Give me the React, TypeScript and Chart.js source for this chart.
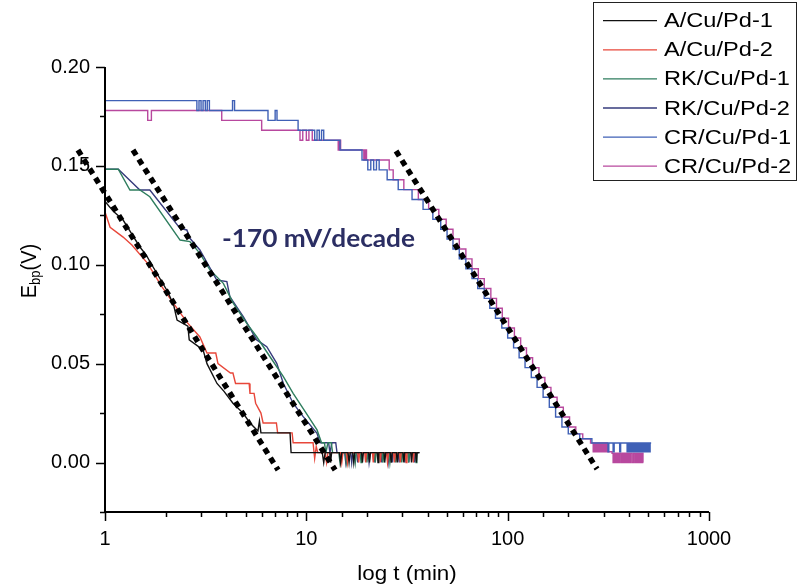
import React, { useEffect, useRef } from "react";
import { Chart, registerables } from "chart.js";

Chart.register(...registerables);

// ---------- data ----------
const seriesNames = ["A/Cu/Pd-1", "A/Cu/Pd-2", "RK/Cu/Pd-1", "RK/Cu/Pd-2", "CR/Cu/Pd-1", "CR/Cu/Pd-2"];
const seriesColors = ["#111111", "#e8473a", "#2e7d5e", "#363b7c", "#3f60b6", "#b8489e"];

const xTickLabels = [1, 10, 100, 1000];
const yTickLabels = [0, 0.05, 0.1, 0.15, 0.2];

const xTitle = "log t (min)";
const yTitleMain = "E";
const yTitleSub = "bp";
const yTitleUnit = "(V)";
const slopeLabel = "-170 mV/decade";

// [t (min), E (V)]
const aCuPd1: [number, number][] = [
  [1, 0.132], [1.1, 0.127], [1.23, 0.1226], [1.35, 0.116], [1.49, 0.109], [1.6, 0.105], [1.73, 0.099],
  [2.06, 0.086], [2.2, 0.079], [2.28, 0.072], [2.58, 0.069], [2.62, 0.062], [3.07, 0.057], [3.21, 0.05],
  [3.6, 0.04], [3.9, 0.036], [4.32, 0.03], [4.85, 0.025], [5.25, 0.02], [5.75, 0.016], [5.85, 0.021],
  [5.95, 0.015], [8.3, 0.015], [8.4, 0.005],
  [12.0, 0.005], [12.2, 0], [12.4, 0.005], [13.1, 0.005], [13.2, 0], [13.35, 0.005], [14.6, 0.005], [14.8, 0],
  [15.0, 0.005], [16.1, 0.005], [16.3, 0], [16.5, 0.005], [17.0, 0.005], [17.2, 0], [17.4, 0.005],
  [18.8, 0.005], [19.0, 0], [19.2, 0.005], [20.4, 0.005], [20.6, 0], [20.8, 0.005], [22.5, 0.005], [22.7, 0],
  [22.9, 0.005], [24.3, 0.005], [24.5, 0], [24.8, 0.005], [26.1, 0.005], [26.4, 0], [26.7, 0.005],
  [28.0, 0.005], [28.3, 0], [28.6, 0.005], [30.2, 0.005], [30.5, 0], [30.8, 0.005], [33.0, 0.005], [33.3, 0],
  [33.6, 0.005], [34.9, 0.005], [35.2, 0], [35.5, 0.005], [36.5, 0.005],
];

const aCuPd2: [number, number][] = [
  [1, 0.1267], [1.06, 0.119], [1.23, 0.114], [1.36, 0.11], [1.62, 0.101], [1.92, 0.0888], [2.18, 0.0807],
  [2.55, 0.071], [2.96, 0.0635], [3.21, 0.0554], [3.55, 0.0554], [3.64, 0.05], [4.2, 0.0453], [4.32, 0.0453],
  [4.45, 0.04], [5.2, 0.04], [5.25, 0.035], [5.5, 0.035], [5.6, 0.03], [5.95, 0.025], [6.1, 0.02], [7.1, 0.02],
  [7.2, 0.015], [8.5, 0.015], [8.6, 0.01], [10.8, 0.01], [11.0, 0.002], [11.2, 0.008], [11.4, 0.005],
  [12.4, 0.005], [12.6, 0], [12.8, 0.005], [14.8, 0.005], [15.0, 0], [15.2, 0.005], [15.8, 0.005], [16.0, 0],
  [16.2, 0.005], [18.0, 0.005], [18.2, 0], [18.4, 0.005], [19.5, 0.005], [19.7, 0], [19.9, 0.005],
  [21.3, 0.005], [21.5, 0], [21.7, 0.005], [23.1, 0.005], [23.3, 0], [23.5, 0.005], [25.0, 0.005], [25.3, 0],
  [25.6, 0.005], [27.1, 0.005], [27.4, 0], [27.7, 0.005], [29.0, 0.005], [29.3, 0], [29.6, 0.005],
  [31.0, 0.005], [31.3, 0], [31.6, 0.005], [33.7, 0.005], [34.0, 0], [34.3, 0.005], [36, 0.005],
];

const rkCuPd1: [number, number][] = [
  [1, 0.1483], [1.164, 0.1483], [1.33, 0.1378], [1.49, 0.1378], [1.67, 0.1344], [2.36, 0.1125], [2.64, 0.1117],
  [2.96, 0.1058], [3.32, 0.0974], [3.87, 0.0906], [4.34, 0.0805], [5.06, 0.0704], [5.67, 0.0636], [6.6, 0.0535],
  [7.69, 0.0434], [8.6, 0.035], [10.0, 0.0249], [11.3, 0.0165], [11.9, 0.01], [12.3, 0.01], [12.5, 0.005],
  [12.8, 0.01], [13.3, 0.01], [13.5, 0.005],
  [14.5, 0.005], [14.7, 0], [14.9, 0.005], [15.6, 0.005], [15.8, 0], [16.0, 0.005], [17.3, 0.005], [17.5, 0],
  [17.7, 0.005], [18.5, 0.005], [18.7, 0], [18.9, 0.005], [19.8, 0.005], [20.0, 0], [20.2, 0.005],
  [21.8, 0.005], [22.0, 0], [22.2, 0.005], [23.8, 0.005], [24.0, 0], [24.3, 0.005], [25.7, 0.005], [26.0, 0],
  [26.3, 0.005], [27.5, 0.005], [27.8, 0], [28.1, 0.005], [29.5, 0.005], [29.8, 0], [30.1, 0.005],
  [31.9, 0.005], [32.2, 0], [32.5, 0.005], [34.8, 0.005], [35.1, 0], [35.4, 0.005], [36.3, 0.005],
];

const rkCuPd2: [number, number][] = [
  [1, 0.1483], [1.164, 0.1483], [1.49, 0.1378], [1.67, 0.1378], [2.36, 0.1184], [2.55, 0.1176], [2.64, 0.1134],
  [2.96, 0.1075], [3.59, 0.0923], [4.03, 0.0915], [4.17, 0.0839], [4.87, 0.0737], [5.67, 0.062], [6.36, 0.0586],
  [7.13, 0.0502], [7.69, 0.04], [8.6, 0.03], [9.65, 0.0232], [11.3, 0.0148], [11.7, 0.01], [12.9, 0.01],
  [13.1, 0.005], [13.4, 0.01], [14.0, 0.01], [14.2, 0.005],
  [15.5, 0.005], [15.7, 0], [15.9, 0.005], [16.6, 0.005], [16.8, 0], [17.0, 0.005], [17.8, 0.005], [18.0, 0],
  [18.2, 0.005], [20.3, 0.005], [20.5, 0], [20.8, 0.005], [21.7, 0.005], [21.9, 0], [22.1, 0.005],
  [23.5, 0.005], [23.7, 0], [23.9, 0.005], [25.2, 0.005], [25.5, 0], [25.8, 0.005], [26.6, 0.005], [26.8, 0],
  [27.0, 0.005], [28.6, 0.005], [28.9, 0], [29.2, 0.005], [30.6, 0.005], [30.9, 0], [31.2, 0.005],
  [32.0, 0.005], [32.3, 0], [32.6, 0.005], [34.1, 0.005], [34.4, 0], [34.7, 0.005], [36.5, 0.005],
];

// stepped series: value changes to E at time t
const crCuPd1: [number, number][] = [
  [1, 0.183], [2.86, 0.178], [2.93, 0.183], [3.0, 0.178], [3.07, 0.183], [3.15, 0.178], [3.22, 0.183],
  [3.3, 0.178], [4.3, 0.183], [4.4, 0.178], [6.45, 0.173], [7.0, 0.178], [7.15, 0.173], [9.1, 0.168],
  [11.0, 0.163], [11.3, 0.168], [11.6, 0.163], [11.9, 0.168], [12.2, 0.163], [14.7, 0.158], [18.9, 0.153],
  [20.2, 0.148], [20.9, 0.153], [21.6, 0.148], [22.3, 0.153], [23.0, 0.148], [25.2, 0.143], [28.6, 0.138],
  [33.5, 0.133], [38.0, 0.128], [42.5, 0.123], [46.5, 0.118], [50.0, 0.113], [53.5, 0.108], [57.5, 0.103],
  [62, 0.098], [66.5, 0.093], [71, 0.088], [76.5, 0.083], [81.5, 0.078], [87, 0.073], [93.5, 0.068],
  [100, 0.063], [107, 0.058], [114, 0.053], [122, 0.048], [131, 0.043], [140, 0.038], [150, 0.033],
  [161, 0.028], [173, 0.023], [186, 0.018], [200, 0.0145], [228, 0.012], [262, 0.0099], [315, 0.0055],
  [318, 0.0099], [334, 0.0055], [338, 0.0099], [360, 0.0055], [364, 0.0099], [392, 0.0055], [397, 0.0099],
  [402, 0.0055], [407, 0.0099], [412, 0.0055], [417, 0.0099], [422, 0.0055], [427, 0.0099], [432, 0.0055],
  [437, 0.0099], [443, 0.0055], [449, 0.0099], [455, 0.0055], [461, 0.0099], [467, 0.0055], [473, 0.0099],
  [479, 0.0055], [485, 0.0099], [491, 0.0055], [497, 0.0099], [503, 0.0055], [510, 0.0099], [516, 0.0099],
];

const crCuPd2: [number, number][] = [
  [1, 0.178], [1.63, 0.173], [1.7, 0.178], [3.8, 0.173], [6.0, 0.168], [9.3, 0.163], [9.6, 0.168],
  [10.0, 0.163], [10.3, 0.168], [10.7, 0.163], [14.4, 0.158], [14.6, 0.163], [14.8, 0.158], [19.3, 0.153],
  [19.6, 0.158], [19.9, 0.153], [25.8, 0.148], [27.0, 0.143], [30.5, 0.138], [36, 0.133], [40.5, 0.128],
  [45.5, 0.123], [49.5, 0.118], [53.5, 0.113], [57.5, 0.108], [62, 0.103], [66.5, 0.098], [71.5, 0.093],
  [76.5, 0.088], [82.5, 0.083], [88, 0.078], [94, 0.073], [101, 0.068], [108, 0.063], [116, 0.058],
  [124, 0.053], [133, 0.048], [143, 0.043], [153, 0.038], [164, 0.033], [176, 0.028], [189, 0.023],
  [203, 0.018], [218, 0.0145], [236, 0.012], [258, 0.0099], [266, 0.0055], [268, 0.0099], [271, 0.0055],
  [274, 0.0099], [277, 0.0055], [280, 0.0099], [283, 0.0055], [287, 0.0099], [290, 0.0055], [294, 0.0099],
  [297, 0.0055], [301, 0.0099], [305, 0.0055], [309, 0.0099], [313, 0.0055], [330, 0.0047], [334, 0.0],
  [339, 0.0047], [344, 0.0], [349, 0.0047], [354, 0.0], [359, 0.0047], [365, 0.0], [371, 0.0047], [377, 0.0],
  [383, 0.0047], [389, 0.0], [395, 0.0047], [401, 0.0], [407, 0.0047], [414, 0.0], [421, 0.0047], [428, 0.0],
  [435, 0.0047], [442, 0.0], [449, 0.0047], [456, 0.0], [463, 0.0047], [470, 0.0], [472, 0.0],
];

// dotted fit lines (-170 mV/decade)
const fitA: [number, number][] = [[0.734, 0.158], [7.24, -0.0038]];
const fitRK: [number, number][] = [[1.377, 0.158], [13.9, -0.0038]];
const fitCR: [number, number][] = [[27.9, 0.1575], [278, -0.0033]];

// ---------- helpers ----------
const FONT = "'Liberation Sans', Arial, sans-serif";
const toXY = (arr: [number, number][]) => arr.map(([x, y]) => ({ x, y }));
const isMajorY = (v: number) => Math.abs(v * 20 - Math.round(v * 20)) < 1e-6;

function stretchedText(ctx: CanvasRenderingContext2D, text: string, x: number, y: number, sx: number) {
  ctx.save();
  ctx.translate(x, y);
  ctx.scale(sx, 1);
  ctx.fillText(text, 0, 0);
  ctx.restore();
}

const overlayPlugin = {
  id: "overlay",
  afterDraw(chart: any) {
    const { ctx, chartArea, scales } = chart;
    const xs = scales.x;
    const ys = scales.y;
    const { left, right, top, bottom } = chartArea;
    ctx.save();
    // axes lines
    ctx.strokeStyle = "#000";
    ctx.lineWidth = 2;
    ctx.beginPath();
    ctx.moveTo(left, top);
    ctx.lineTo(left, bottom);
    ctx.moveTo(left, bottom);
    ctx.lineTo(right, bottom);
    ctx.stroke();
    // ticks
    ctx.lineWidth = 1.5;
    ctx.beginPath();
    xs.ticks.forEach((t: any) => {
      const px = Math.round(xs.getPixelForValue(t.value)) + 0.5;
      const len = xTickLabels.includes(t.value) ? 9 : 5;
      ctx.moveTo(px, bottom);
      ctx.lineTo(px, bottom + len);
    });
    ys.ticks.forEach((t: any) => {
      const py = Math.round(ys.getPixelForValue(t.value)) + 0.5;
      const len = isMajorY(t.value) ? 9 : 5;
      ctx.moveTo(left, py);
      ctx.lineTo(left - len, py);
    });
    ctx.stroke();

    // x title
    ctx.fillStyle = "#000";
    ctx.font = `20px ${FONT}`;
    ctx.textBaseline = "middle";
    const xw = ctx.measureText(xTitle).width * 1.12;
    stretchedText(ctx, xTitle, (left + right) / 2 - xw / 2, 574, 1.12);

    // y title (rotated, with subscript)
    ctx.save();
    ctx.translate(36, 271);
    ctx.rotate(-Math.PI / 2);
    ctx.scale(1, 1.12);
    ctx.textBaseline = "alphabetic";
    ctx.font = `20px ${FONT}`;
    const wE = ctx.measureText(yTitleMain).width;
    const wU = ctx.measureText(yTitleUnit).width;
    ctx.font = `13px ${FONT}`;
    const wS = ctx.measureText(yTitleSub).width;
    let cx = -(wE + wS + wU) / 2;
    ctx.font = `20px ${FONT}`;
    ctx.fillText(yTitleMain, cx, 0);
    cx += wE;
    ctx.font = `13px ${FONT}`;
    ctx.fillText(yTitleSub, cx, 4);
    cx += wS;
    ctx.font = `20px ${FONT}`;
    ctx.fillText(yTitleUnit, cx, 0);
    ctx.restore();

    // slope label
    ctx.fillStyle = "#2b2e63";
    ctx.font = `bold 24px Lato, 'Open Sans', sans-serif`;
    ctx.textBaseline = "middle";
    const sw = ctx.measureText(slopeLabel).width;
    stretchedText(ctx, slopeLabel, 222, 239, 193 / sw);

    // legend
    ctx.strokeStyle = "#222";
    ctx.lineWidth = 1;
    ctx.strokeRect(593.5, 2.5, 203, 178);
    ctx.font = `20px ${FONT}`;
    ctx.textBaseline = "middle";
    seriesNames.forEach((name, i) => {
      const ry = 20.7 + i * 29.1;
      ctx.strokeStyle = seriesColors[i];
      ctx.lineWidth = 1.3;
      ctx.beginPath();
      ctx.moveTo(603, ry);
      ctx.lineTo(657, ry);
      ctx.stroke();
      ctx.fillStyle = "#000";
      stretchedText(ctx, name, 664, ry + 1, 1.18);
    });
    ctx.restore();
  },
};

export default function App() {
  const ref = useRef<HTMLCanvasElement | null>(null);

  useEffect(() => {
    if (!ref.current) return;
    const series = [aCuPd1, aCuPd2, rkCuPd1, rkCuPd2, crCuPd1, crCuPd2];
    const fitStyle = {
      borderColor: "#000",
      borderWidth: 5.5,
      borderDash: [6, 5],
      borderCapStyle: "butt" as const,
      pointRadius: 0,
      fill: false,
      clip: false as any,
    };
    const datasets: any[] = [
      { label: "fit A", data: toXY(fitA), ...fitStyle },
      { label: "fit RK", data: toXY(fitRK), ...fitStyle },
      { label: "fit CR", data: toXY(fitCR), ...fitStyle },
      ...series.map((s, i) => ({
        label: seriesNames[i],
        data: toXY(s),
        borderColor: seriesColors[i],
        borderWidth: 1.4,
        pointRadius: 0,
        fill: false,
        tension: 0,
        stepped: i >= 4 ? "before" : false,
      })),
    ];

    const chart = new Chart(ref.current, {
      type: "line",
      data: { datasets },
      options: {
        animation: false,
        responsive: false,
        devicePixelRatio: 1,
        events: [],
        layout: { padding: { left: 0, right: 91, top: 67, bottom: 0 } },
        plugins: { legend: { display: false }, tooltip: { enabled: false } },
        scales: {
          x: {
            type: "logarithmic",
            min: 1,
            max: 1000,
            grid: { display: false, drawTicks: false },
            border: { display: false },
            afterFit: (s: any) => {
              s.height = 75;
            },
            ticks: {
              autoSkip: false,
              maxRotation: 0,
              padding: 15,
              color: "#000",
              font: { family: FONT, size: 20 },
              callback: (v: any) => (xTickLabels.includes(Number(v)) ? String(v) : ""),
            },
          },
          y: {
            type: "linear",
            min: -0.025,
            max: 0.2,
            grid: { display: false, drawTicks: false },
            border: { display: false },
            afterFit: (s: any) => {
              s.width = 105;
            },
            ticks: {
              stepSize: 0.025,
              autoSkip: false,
              padding: 15,
              color: "#000",
              font: { family: FONT, size: 20 },
              callback: (v: any) => {
                const n = Number(v);
                return yTickLabels.some((l) => Math.abs(l - n) < 1e-6) ? n.toFixed(2) : "";
              },
            },
          },
        },
      },
      plugins: [overlayPlugin],
    });
    return () => chart.destroy();
  }, []);

  return (
    <div style={{ position: "absolute", left: 0, top: 0, width: 800, height: 587, background: "#fff" }}>
      <canvas ref={ref} width={800} height={587} />
    </div>
  );
}
